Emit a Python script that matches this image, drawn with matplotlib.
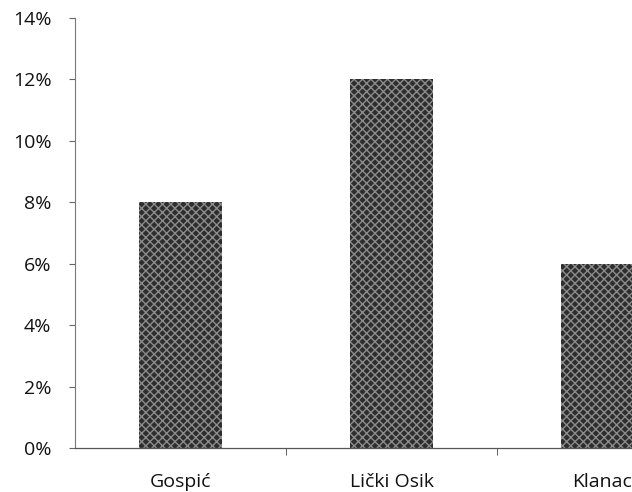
import numpy as np
import matplotlib.pyplot as plt

plt.rcParams['font.family'] = ['Open Sans', 'DejaVu Sans']

towns = ['Gospić', 'Lički Osik', 'Klanac']
shares = [8, 12, 6]
yticks = [0, 2, 4, 6, 8, 10, 12, 14]

fig = plt.figure(figsize=(6.32, 4.92), dpi=100)
ax = fig.add_axes([75 / 632, 44 / 492, 633 / 632, 430 / 492])

x = np.arange(len(towns))
ax.bar(x, shares, width=0.39, color='#2e2e2e', edgecolor='#8c8c8c', hatch='xxxx', linewidth=0)

ax.set_xlim(-0.5, 2.5)
ax.set_ylim(0, 14)
ax.set_yticks(yticks)
ax.set_yticklabels([f'{v}%' for v in yticks], fontsize=14, color='#111111')
ax.set_xticks(x)
ax.set_xticklabels(towns, fontsize=14, color='#111111')
ax.tick_params(axis='x', length=0, pad=18)
ax.set_xticks([0.5, 1.5], minor=True)
ax.tick_params(axis='x', which='minor', length=5, color='#444444')
ax.tick_params(axis='y', length=4, pad=13, color='#666666')

for s in ['top', 'right']:
    ax.spines[s].set_visible(False)
ax.spines['left'].set_color('#777777')
ax.spines['left'].set_linestyle((0, (3, 1)))
ax.spines['bottom'].set_color('#555555')
ax.spines['left'].set_linewidth(0.8)
ax.spines['bottom'].set_linewidth(0.9)

fig.savefig('out.png', dpi=100)
